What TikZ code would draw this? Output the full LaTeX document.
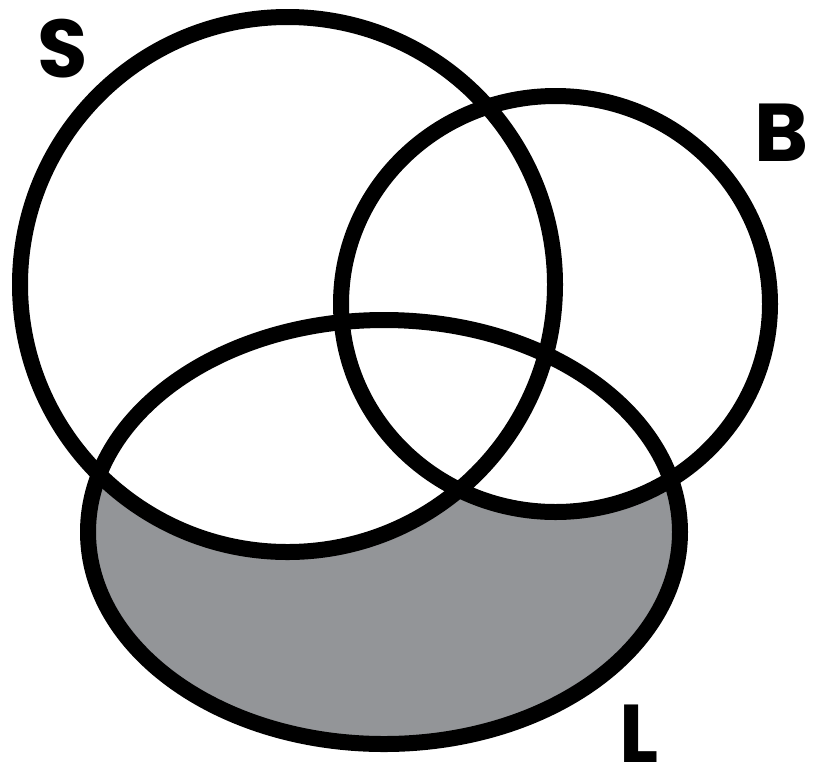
\documentclass[tikz,border=0pt]{standalone}
\usepackage{fontspec}
\setmainfont{Poppins}
\definecolor{regiongray}{RGB}{147,149,152}
\begin{document}
\begin{tikzpicture}[x=1pt,y=-1pt,
  ring/.style={draw=black,line width=16pt},
  lbl/.style={font=\fontsize{82}{82}\selectfont\bfseries, inner sep=0pt, text depth=0pt, anchor=base}]
\useasboundingbox (0,0) rectangle (813,772);
\fill[regiongray] (384,532) ellipse [x radius=296, y radius=212];
\fill[white] (287.5,284.5) circle [radius=267.5];
\fill[white] (555.5,304) ellipse [x radius=214.5, y radius=208];
\draw[ring] (287.5,284.5) circle [radius=267.5];
\draw[ring] (555.5,304) ellipse [x radius=214.5, y radius=208];
\draw[ring] (384,532) ellipse [x radius=296, y radius=212];
\node[lbl] (S) at (63,77) {S};
\node[lbl] (B) at (782,161) {B};
\node[lbl] (L) at (639,762) {L};
\end{tikzpicture}
\end{document}
